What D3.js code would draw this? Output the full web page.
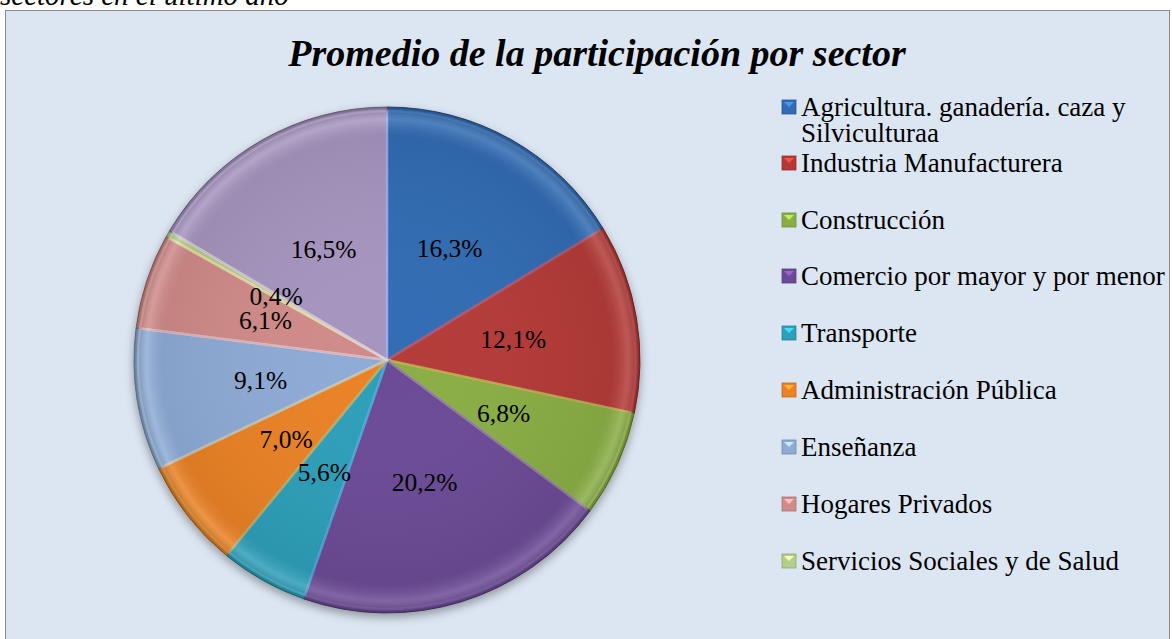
<!DOCTYPE html>
<html>
<head>
<meta charset="utf-8">
<script src="https://cdn.jsdelivr.net/npm/d3@7"></script>
<style>
  body { margin: 0; background: #fff; }
  svg { display: block; }
</style>
</head>
<body>
<svg id="chart" width="1172" height="639"></svg>
<script>
// data
const sectors = [
  'Agricultura. ganadería. caza y Silviculturaa',
  'Industria Manufacturera',
  'Construcción',
  'Comercio por mayor y por menor',
  'Transporte',
  'Administración Pública',
  'Enseñanza',
  'Hogares Privados',
  'Servicios Sociales y de Salud',
  'Otros'
];
const shares = [16.3, 12.1, 6.8, 20.2, 5.6, 7.0, 9.1, 6.1, 0.4, 16.5];
const colors = ['#336cb3', '#b43a38', '#8aae45', '#6c4b96', '#2f9fb9',
                '#ea8227', '#8eabd6', '#d08b89', '#b4cd88', '#a695bf'];
// legend in the picture only shows the first nine entries
const legendCount = 9;

const width = 1172, height = 639;
const svg = d3.select('#chart');
const font = '"Liberation Serif", "Times New Roman", serif';

// caption cut off at the top of the image
svg.append('text')
  .attr('x', 0).attr('y', 5)
  .style('font-family', font).style('font-style', 'italic')
  .style('font-size', '29px').style('fill', '#000')
  .text('sectores en el último año');

// chart area
svg.append('rect')
  .attr('x', 5.5).attr('y', 10.5)
  .attr('width', 1164).attr('height', 640)
  .attr('fill', '#dce6f2')
  .attr('stroke', '#8c8c8c').attr('stroke-width', 1);

svg.append('text')
  .attr('x', 597).attr('y', 66)
  .attr('text-anchor', 'middle')
  .style('font-family', font).style('font-style', 'italic')
  .style('font-weight', 'bold').style('font-size', '38px')
  .text('Promedio de la participación por sector');

const defs = svg.append('defs');
const shadow = defs.append('filter').attr('id', 'shadow')
  .attr('x', '-10%').attr('y', '-10%').attr('width', '120%').attr('height', '125%');
shadow.append('feDropShadow')
  .attr('dx', 0).attr('dy', 4).attr('stdDeviation', 5)
  .attr('flood-color', '#000').attr('flood-opacity', 0.35);

const shade = defs.append('radialGradient').attr('id', 'shade')
  .attr('cx', '50%').attr('cy', '50%').attr('r', '50%');
shade.append('stop').attr('offset', '0%').attr('stop-color', '#fff').attr('stop-opacity', 0);
shade.append('stop').attr('offset', '88%').attr('stop-color', '#000').attr('stop-opacity', 0.06);
shade.append('stop').attr('offset', '95%').attr('stop-color', '#fff').attr('stop-opacity', 0.14);
shade.append('stop').attr('offset', '100%').attr('stop-color', '#000').attr('stop-opacity', 0.28);

const cx = 387, cy = 360, radius = 253;
const data = sectors.map((s, i) => ({ sector: s, value: shares[i], color: colors[i] }));

const pie = d3.pie().sort(null).value(d => d.value);
const arc = d3.arc().innerRadius(0).outerRadius(radius);
const labelArc = d3.arc().innerRadius(128).outerRadius(128);
const arcs = pie(data);

const g = svg.append('g').attr('transform', `translate(${cx},${cy})`);
const slices = g.append('g').attr('filter', 'url(#shadow)');

slices.selectAll('path.slice')
  .data(arcs)
  .enter().append('path')
  .attr('class', 'slice')
  .attr('d', arc)
  .attr('fill', d => d.data.color)
  .attr('stroke', d => d3.color(d.data.color).darker(0.9))
  .attr('stroke-width', 1);

// bevel highlight along the inner edge of each slice
const bevel = d3.arc().innerRadius(0).outerRadius(radius - 4);
g.selectAll('path.bevel')
  .data(arcs)
  .enter().append('path')
  .attr('class', 'bevel')
  .attr('d', bevel)
  .attr('fill', 'none')
  .attr('stroke', d => d3.color(d.data.color).brighter(0.8))
  .attr('stroke-opacity', 0.55)
  .attr('stroke-width', 2.5);

g.append('circle').attr('r', radius).attr('fill', 'url(#shade)');

g.selectAll('text.lbl')
  .data(arcs)
  .enter().append('text')
  .attr('class', 'lbl')
  .attr('transform', d => `translate(${labelArc.centroid(d)})`)
  .attr('text-anchor', 'middle')
  .attr('dy', '0.35em')
  .style('font-family', font).style('font-size', '25.5px').style('fill', '#000')
  .text(d => d3.format('.1f')(d.data.value).replace('.', ',') + '%');

// legend
const legendRows = [107, 163, 220, 276, 333, 390, 447, 504, 561];
const legend = svg.append('g');
data.slice(0, legendCount).forEach((d, i) => {
  const y = legendRows[i];
  const item = legend.append('g').attr('transform', `translate(782,${y})`);
  item.append('rect')
    .attr('x', 0).attr('y', -7).attr('width', 14).attr('height', 14)
    .attr('fill', d.color)
    .attr('stroke', d3.color(d.color).darker(0.6)).attr('stroke-width', 0.8);
  item.append('path')
    .attr('d', 'M2,-5 L12,-5 L7,0 Z')
    .attr('fill', d3.color(d.color).brighter(0.9));
  const lines = i === 0 ? ['Agricultura. ganadería. caza y', 'Silviculturaa'] : [d.sector];
  lines.forEach((t, k) => {
    item.append('text')
      .attr('x', 19).attr('y', k * 26).attr('dy', '0.35em')
      .style('font-family', font).style('font-size', '27px').style('fill', '#000')
      .text(t);
  });
});
</script>
</body>
</html>
